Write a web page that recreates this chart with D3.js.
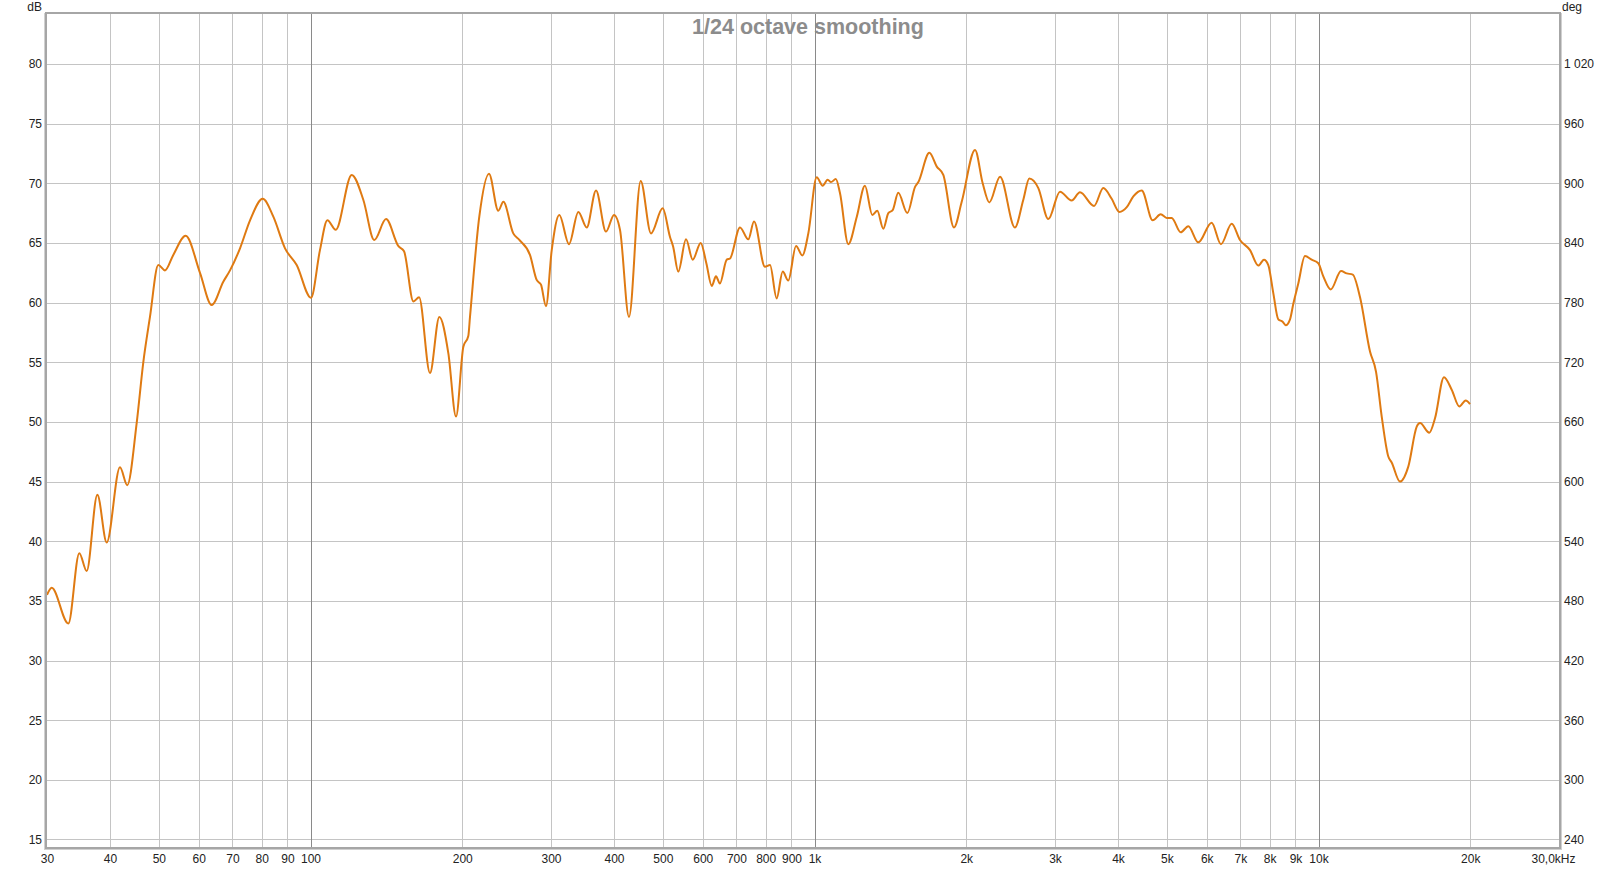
<!DOCTYPE html>
<html>
<head>
<meta charset="utf-8">
<script src="https://cdn.jsdelivr.net/npm/d3@7"></script>
<style>
  html, body { margin: 0; padding: 0; background: #fff; }
  svg { display: block; font-family: "Liberation Sans", Arial, sans-serif; }
</style>
</head>
<body>
<svg id="chart" width="1617" height="869"></svg>
<script>
// ---- data ----
const freq = [30.0, 30.65, 33.07, 34.77, 35.96, 37.76, 39.41, 41.87, 43.29, 45.19, 46.58, 48.02, 49.88, 51.43, 53.42, 56.53, 60.35, 63.66, 67.13, 69.22, 72.46, 75.85, 80.38, 84.37, 89.0, 93.87, 100.2, 104.4, 108.0, 112.2, 120.7, 127.3, 133.8, 141.2, 149.3, 153.3, 160.0, 164.2, 172.6, 180.1, 187.7, 194.4, 201.0, 205.6, 207.2, 216.2, 226.0, 235.8, 241.3, 252.5, 259.6, 272.5, 281.0, 286.6, 293.2, 301.0, 311.6, 325.7, 339.9, 353.2, 368.5, 385.7, 400.1, 411.2, 428.4, 451.9, 473.7, 499.7, 516.7, 524.1, 536.6, 555.9, 573.2, 594.5, 610, 625.3, 637.5, 649, 669.6, 679.8, 711.4, 738.9, 758.4, 797.4, 816, 841, 864.7, 887, 918.9, 945.6, 972, 1010, 1038, 1062, 1078, 1102, 1123, 1167, 1213, 1259, 1302, 1332, 1369, 1401, 1429, 1466, 1528, 1583, 1607, 1690, 1748, 1801, 1891, 1959, 2082, 2156, 2222, 2334, 2498, 2595, 2668, 2780, 2910, 3069, 3237, 3363, 3586, 3741, 3887, 4026, 4164, 4291, 4458, 4687, 4863, 4998, 5113, 5328, 5516, 5773, 6137, 6404, 6725, 6985, 7313, 7595, 7794, 7949, 8133, 8320, 8489, 8606, 8779, 8912, 9117, 9399, 9692, 9989, 10221, 10572, 11083, 11376, 11692, 12088, 12651, 13005, 13347, 13755, 13968, 14508, 15069, 15661, 15899, 16587, 17025, 17738, 18375, 19025, 19590, 19977];
const spl = [35.5, 36.1, 33.1, 39.0, 37.5, 43.9, 39.9, 46.2, 44.7, 49.9, 55.0, 58.8, 63.15, 62.7, 64.0, 65.6, 62.5, 59.8, 61.75, 62.7, 64.55, 66.9, 68.7, 67.2, 64.55, 63.15, 60.4, 64.4, 66.9, 66.1, 70.7, 68.6, 65.25, 67.0, 64.75, 64.3, 60.1, 60.45, 54.1, 58.8, 55.75, 50.45, 56.3, 57.2, 58.8, 67.2, 70.8, 67.7, 68.45, 65.8, 65.25, 64.0, 61.9, 61.5, 59.7, 64.4, 67.35, 64.9, 67.6, 66.3, 69.4, 65.95, 67.35, 66.1, 58.8, 70.2, 65.8, 67.9, 65.5, 64.7, 62.6, 65.3, 63.6, 65.0, 63.3, 61.4, 62.2, 61.6, 63.6, 63.7, 66.3, 65.3, 66.8, 63.0, 63.15, 60.35, 62.6, 61.85, 64.75, 63.95, 65.8, 70.5, 69.8, 70.3, 70.1, 70.35, 69.2, 64.9, 67.2, 69.8, 67.35, 67.7, 66.2, 67.5, 67.75, 69.2, 67.5, 69.7, 70.1, 72.55, 71.4, 70.7, 66.3, 68.45, 72.8, 70.0, 68.4, 70.55, 66.3, 68.6, 70.4, 69.6, 67.0, 69.3, 68.55, 69.25, 68.1, 69.6, 68.7, 67.6, 68.0, 68.9, 69.4, 66.9, 67.4, 67.1, 67.1, 65.9, 66.4, 65.05, 66.7, 64.9, 66.6, 65.25, 64.4, 63.1, 63.6, 63.15, 60.8, 58.6, 58.4, 58.1, 58.6, 59.9, 61.6, 63.9, 63.6, 63.3, 62.2, 61.1, 62.65, 62.45, 62.35, 60.45, 55.9, 54.2, 50.45, 47.1, 46.6, 45.0, 46.25, 49.6, 49.9, 49.1, 50.3, 53.75, 52.7, 51.3, 51.8, 51.5];

const xTickValues = [30, 40, 50, 60, 70, 80, 90, 100, 200, 300, 400, 500, 600, 700, 800, 900, 1000, 2000, 3000, 4000, 5000, 6000, 7000, 8000, 9000, 10000, 20000, 30000];
const xTickLabels = ["30", "40", "50", "60", "70", "80", "90", "100", "200", "300", "400", "500", "600", "700", "800", "900", "1k", "2k", "3k", "4k", "5k", "6k", "7k", "8k", "9k", "10k", "20k", "30,0kHz"];
const majorFreqs = [100, 1000, 10000];
const dbTicks = [15, 20, 25, 30, 35, 40, 45, 50, 55, 60, 65, 70, 75, 80];
const degTicks = [240, 300, 360, 420, 480, 540, 600, 660, 720, 780, 840, 900, 960, 1020];
const degLabels = ["240", "300", "360", "420", "480", "540", "600", "660", "720", "780", "840", "900", "960", "1 020"];
const titleText = "1/24 octave smoothing";

// ---- layout ----
const svg = d3.select("#chart");
const L = 47, R = 1559, T = 14, B = 847;

const x = d3.scaleLog().domain([30, 30000]).range([L, R]);
const y = d3.scaleLinear().domain([14.37, 84.19]).range([B, T]);
const yDeg = d3.scaleLinear().domain([14.37 * 12 + 60, 84.19 * 12 + 60]).range([B, T]);

// background
svg.append("rect").attr("x", L).attr("y", T).attr("width", R - L).attr("height", B - T).attr("fill", "#fff");

// horizontal grid
svg.append("g").selectAll("line").data(dbTicks).join("line")
  .attr("x1", L).attr("x2", R)
  .attr("y1", d => Math.round(y(d)) + 0.5).attr("y2", d => Math.round(y(d)) + 0.5)
  .attr("stroke", "#c4c4c4").attr("stroke-width", 1);

// vertical grid
svg.append("g").selectAll("line").data(xTickValues.filter(f => f > 30 && f < 30000)).join("line")
  .attr("x1", d => Math.round(x(d)) + 0.5).attr("x2", d => Math.round(x(d)) + 0.5)
  .attr("y1", T).attr("y2", B)
  .attr("stroke", d => majorFreqs.includes(d) ? "#8a8a8a" : "#c4c4c4").attr("stroke-width", 1);

// curve
const line = d3.line()
  .x((d, i) => x(freq[i]))
  .y(d => y(d))
  .curve(d3.curveMonotoneX);
svg.append("path").datum(spl)
  .attr("d", line)
  .attr("fill", "none")
  .attr("stroke", "#df7a12")
  .attr("stroke-width", 2)
  .attr("stroke-linejoin", "round");

// frame
svg.append("rect").attr("x", L - 1).attr("y", T - 1).attr("width", R - L + 2).attr("height", B - T + 2)
  .attr("fill", "none").attr("stroke", "#a6a6a6").attr("stroke-width", 2);
svg.append("line").attr("x1", L - 2.5).attr("x2", L - 2.5).attr("y1", T - 1).attr("y2", B + 3)
  .attr("stroke", "#d0d0d0").attr("stroke-width", 1);
svg.append("line").attr("x1", L - 2).attr("x2", R + 3).attr("y1", B + 2.5).attr("y2", B + 2.5)
  .attr("stroke", "#d0d0d0").attr("stroke-width", 1);
svg.append("line").attr("x1", R + 2.5).attr("x2", R + 2.5).attr("y1", T - 1).attr("y2", B + 3)
  .attr("stroke", "#d0d0d0").attr("stroke-width", 1);

// left axis
const yAxis = d3.axisLeft(y).tickValues(dbTicks).tickSize(0).tickPadding(0).tickFormat(d3.format("d"));
const gy = svg.append("g").attr("transform", `translate(${L - 5},0)`).call(yAxis);
gy.select(".domain").remove();
gy.selectAll("text").attr("font-size", 12).attr("fill", "#222").attr("font-family", "Liberation Sans, Arial, sans-serif");

// right axis
const yAxisR = d3.axisRight(yDeg).tickValues(degTicks).tickSize(0).tickPadding(0).tickFormat((d, i) => degLabels[i]);
const gyr = svg.append("g").attr("transform", `translate(${R + 5},0)`).call(yAxisR);
gyr.select(".domain").remove();
gyr.selectAll("text").attr("font-size", 12).attr("fill", "#222").attr("font-family", "Liberation Sans, Arial, sans-serif");

// bottom axis
const xAxis = d3.axisBottom(x).tickValues(xTickValues).tickSize(0).tickPadding(0).tickFormat((d, i) => xTickLabels[i]);
const gx = svg.append("g").attr("transform", `translate(0,${B + 7})`).call(xAxis);
gx.select(".domain").remove();
gx.selectAll("text").attr("font-size", 12).attr("fill", "#222").attr("font-family", "Liberation Sans, Arial, sans-serif")
  .attr("dx", (d, i) => i === xTickLabels.length - 1 ? -6 : 0);

// units
svg.append("text").attr("x", 42).attr("y", 11).attr("text-anchor", "end")
  .attr("font-size", 12).attr("fill", "#222").text("dB");
svg.append("text").attr("x", 1562).attr("y", 11).attr("text-anchor", "start")
  .attr("font-size", 12).attr("fill", "#222").text("deg");

// title
svg.append("text").attr("x", 808).attr("y", 34).attr("text-anchor", "middle")
  .attr("font-size", 21.5).attr("font-weight", "bold").attr("fill", "#8c8c8c").text(titleText);
</script>
</body>
</html>
